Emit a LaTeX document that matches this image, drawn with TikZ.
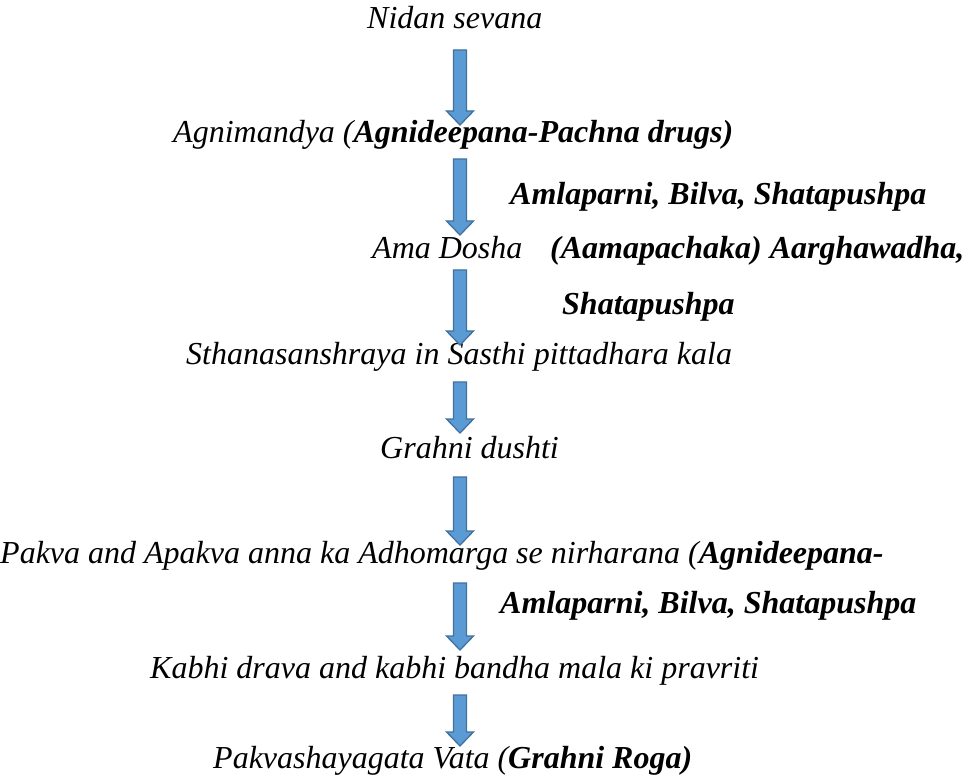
\documentclass[tikz,border=0pt]{standalone}
\usepackage{fontspec}
\setmainfont{Liberation Serif}
\usetikzlibrary{calc}
\definecolor{afill}{HTML}{5B9BD5}
\definecolor{aline}{HTML}{41719C}
\tikzset{
  txt/.style={font=\fontsize{32}{36}\selectfont\itshape, inner sep=0pt, anchor=base west},
  blockarrow/.style={draw=aline, fill=afill, line width=1.3pt, line join=miter}
}
\newcommand\blockarr[2]{%
  \draw[blockarrow] ($(#1)+(-6.5,0)$) -- ($(#1)+(6.5,0)$) -- ($(#2)+(6.5,-14)$)
    -- ($(#2)+(13.5,-14)$) -- (#2) -- ($(#2)+(-13.5,-14)$) -- ($(#2)+(-6.5,-14)$) -- cycle;}
\begin{document}
\begin{tikzpicture}[x=1pt,y=-1pt]
\fill[white] (0,0) rectangle (970,778);
\useasboundingbox (0,0) rectangle (970,778);
\node[txt] (n1) at (367,29) {Nidan sevana};
\node[txt] (n2) at (173,143) {Agnimandya (\textbf{Agnideepana-Pachna drugs)}};
\node[txt] (n3) at (510,205) {\textbf{Amlaparni, Bilva, Shatapushpa}};
\node[txt] (n4) at (372,259) {Ama Dosha};
\node[txt] (n5) at (550,259) {\textbf{(Aamapachaka) Aarghawadha,}};
\node[txt] (n6) at (562,315) {\textbf{Shatapushpa}};
\node[txt] (n7) at (186,364) {Sthanasanshraya in Sasthi pittadhara kala};
\node[txt] (n8) at (380,458) {Grahni dushti};
\node[txt] (n9) at (0,563) {Pakva and Apakva anna ka Adhomarga se nirharana (\textbf{Agnideepana-}};
\node[txt] (n10) at (500,613) {\textbf{Amlaparni, Bilva, Shatapushpa}};
\node[txt] (n11) at (150,678) {Kabhi drava and kabhi bandha mala ki pravriti};
\node[txt] (n12) at (213,768) {Pakvashayagata Vata (\textbf{Grahni Roga)}};
\coordinate (a1s) at (460,50);  \coordinate (a1e) at (460,125);
\coordinate (a2s) at (460,159); \coordinate (a2e) at (460,235);
\coordinate (a3s) at (460,270); \coordinate (a3e) at (460,345);
\coordinate (a4s) at (460,382); \coordinate (a4e) at (460,433);
\coordinate (a5s) at (460,477); \coordinate (a5e) at (460,545);
\coordinate (a6s) at (460,583); \coordinate (a6e) at (460,650);
\coordinate (a7s) at (460,695); \coordinate (a7e) at (460,746);
\blockarr{a1s}{a1e}
\blockarr{a2s}{a2e}
\blockarr{a3s}{a3e}
\blockarr{a4s}{a4e}
\blockarr{a5s}{a5e}
\blockarr{a6s}{a6e}
\blockarr{a7s}{a7e}
\end{tikzpicture}
\end{document}
